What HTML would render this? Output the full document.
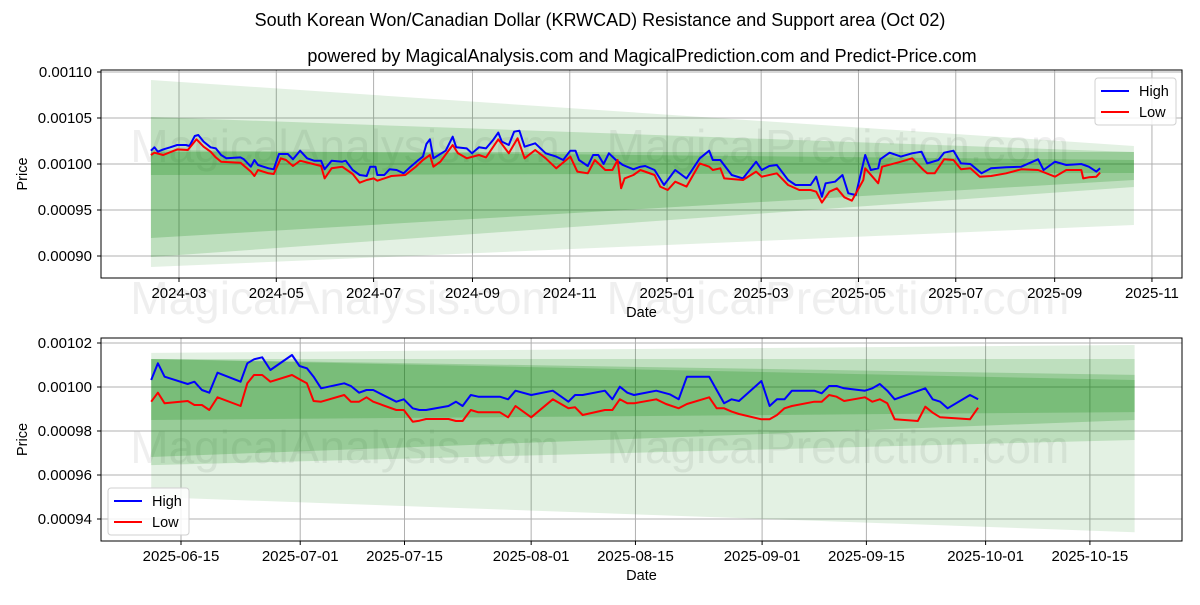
<!DOCTYPE html>
<html><head><meta charset="utf-8"><style>
body{margin:0;background:#fff;}
svg{font-family:"Liberation Sans","DejaVu Sans",sans-serif;}
</style></head><body>
<svg id="chart" width="1200" height="600" viewBox="0 0 1200 600" xmlns="http://www.w3.org/2000/svg">
<rect width="1200" height="600" fill="#fff"/>
<text x="600" y="26" font-size="18" text-anchor="middle" fill="#000">South Korean Won/Canadian Dollar (KRWCAD) Resistance and Support area (Oct 02)</text>
<text x="642" y="62" font-size="18" text-anchor="middle" fill="#000">powered by MagicalAnalysis.com and MagicalPrediction.com and Predict-Price.com</text>
<g id="top"></g>
<g id="bot"></g>
</svg>
<script>
// ---- Top panel data (day offsets from 2024-03-01, price in micro-CAD) ----
const topHighDays=[-17.6,-15.4,-13.2,-9.9,-5.5,-1.1,4.4,6.6,9.9,12.1,15.4,19.8,23.1,26.4,29.7,38.5,40.7,45.1,47.3,49.5,56.1,59.4,62.7,68.2,71.5,75.9,80.3,84.7,89.1,91.3,95.7,102.3,104.5,108.9,113.3,117.7,119.9,123.2,124.3,128.7,132,136.4,140.8,145.2,149.6,152.9,155.1,157.3,159.5,162.8,167.2,171.6,173.8,180.4,183.7,188.1,192.5,196.9,200.2,202.4,206.8,210.1,213.4,216.7,223.3,229.9,236.5,240.9,245.3,248.6,250.8,256.3,259.6,262.9,266.2,269.5,273.9,278.3,284.9,289.3,292.3,298.2,304.1,311.1,318.2,326.5,332.4,334.7,339.4,346.5,353.6,361.8,365.4,370.1,374.8,381.9,386.6,396,399.5,403.1,405.4,411.3,416,419.6,424.3,430.2,433.7,438.4,439.6,445.5,452.6,459.6,465.5,469.1,476.1,479.7,485.6,490.3,496.2,503.2,509.1,518.6,528,538.6,542.1,549.2,556.3,565.7,570.4,575.1,577.5];
const topHighVals=[1014.5,1018.1,1013.4,1015.9,1018.1,1020.7,1020.7,1019.6,1030.4,1031.5,1024.3,1018.1,1017,1009.8,1006.2,1007.2,1005.1,997.1,1004.3,998.9,995.3,994.2,1010.9,1010.9,1005.1,1014.5,1006.2,1003.6,1003.6,994.2,1003.6,1002.5,1003.6,993.5,988,987,997.1,997.1,988,988,994.2,993.5,989.9,997.1,1003.6,1008,1021.7,1026.8,1006.2,1009.8,1014.5,1029.7,1018.1,1017,1011.6,1018.1,1017,1026.1,1034.1,1024.3,1020.7,1035.1,1036.2,1018.8,1022.5,1011.6,1008,1004.3,1014.5,1014.5,1004.3,997.8,1009.8,1009.8,1000,1011.6,1004.3,998.9,994.2,997.1,997.8,993.5,977.2,993.5,984.4,1006.2,1014.5,1004.3,1004.3,988,984.4,1002.5,993.5,997.8,998.9,982.6,977.2,977.2,986.2,964.5,979,980.8,988,968.1,966.3,1009.8,993.5,995.3,1005.1,1012.3,1008,1011.6,1013.4,1000.7,1004.3,1012.3,1014.5,1000.7,1000,989.9,995.3,996.4,997.1,1005.1,993.5,1002.5,998.9,1000,997.1,991.7,995.3];
const topLowDays=[-17.6,-15.4,-9.9,-1.1,5.5,11,15.4,19.8,23.1,26.4,38.5,45.1,47.3,49.5,56.1,59.4,63.8,67.1,71.5,75.9,82.5,89.1,91.3,95.7,102.3,108.9,113.3,117.7,122.1,124.3,128.7,133.1,141.9,148.5,152.9,157.3,159.5,163.9,171.6,174.9,180.4,188.1,192.5,200.2,206.8,212.3,216.7,223.3,229.9,236.5,245.3,249.7,256.3,260.7,267.3,271.7,275,277.2,279.4,284.9,289.3,298.2,301.7,306.4,311.1,318.2,326.5,332.4,334.7,339.4,341.8,353.6,361.8,365.4,374.8,381.9,388.9,396,399.5,403.1,407.8,412.5,417.2,421.9,429,430.2,438.4,440.8,452.6,459.6,466.7,469.1,473.8,479.7,485.6,490.3,496.2,502.1,509.1,518.6,528,538.6,549.2,556.3,565.7,566.9,570.4,575.1,577.5];
const topLowVals=[1009.8,1012.3,1009.8,1015.9,1015.2,1026.8,1018.8,1013.4,1007.2,1002.5,1001.4,991.7,987,993.5,989.9,989.1,1006.2,1004.3,997.8,1003.6,1000.7,997.8,984.4,995.3,997.1,989.1,979.7,982.6,984.4,981.9,984.4,987,988,997.1,1004.3,1009.8,997.1,1002.5,1020.7,1011.6,1006.2,1009.8,1007.2,1026.8,1011.6,1027.9,1006.2,1015.2,1006.2,995.3,1008,991.7,989.9,1004.3,993.5,993.5,1004.3,973.6,984.4,988,993.5,988,975.4,971.7,980.8,975.4,1000.7,997.1,993.5,995.3,984.4,982.6,991.7,986.2,989.9,977.2,971.7,971.7,969.9,958,969.9,973.6,963.8,960.1,982.6,995.3,979,997.1,1002.5,1006.2,993.5,989.9,989.9,1005.1,1004.3,994.2,995.3,986.2,987,989.9,994.2,993.5,986.2,993.5,993.5,984.4,985.5,986.2,990.6];
const topBandDays=[-17.6,598.7];
const topBandA=[[1091.3,888.0],[1019.6,933.7]];
const topBandB=[[1051.1,898.9],[1013.0,975.0]];
const topBandC=[[1013.0,919.6],[1013.0,982.6]];
const topBandD=[[1015.2,988.0],[1004.3,990.2]];
const topYTicks=[1100,1050,1000,950,900];
const topYTickLabels=["0.00110","0.00105","0.00100","0.00095","0.00090"];
const topXTicks=[0,61,122,184,245,306,365,426,487,549,610];
const topXTickLabels=["2024-03","2024-05","2024-07","2024-09","2024-11","2025-01","2025-03","2025-05","2025-07","2025-09","2025-11"];

// ---- Bottom panel data (day offsets from 2025-06-15) ----
const botHighDays=[-4,-3.1,-2.2,0.9,1.8,2.8,3.8,4.9,8,8.9,9.8,10.9,12,14.9,15.9,16.9,17.8,18.8,21.9,22.8,23.9,24.9,25.8,28.9,29.9,31.1,32,32.9,35.9,36.9,37.8,38.9,39.9,42.8,43.9,44.9,47,49.9,52,52.9,53.9,56.9,57.9,58.9,59.9,60.8,63.8,65.6,66.8,67.9,70.9,72.9,73.9,74.9,77.9,79,80,81,82,85,86,87,88,89,91.8,92.8,93.8,94.8,95.8,99.9,100.9,101.9,102.9,105.9,107];
const botHighVals=[1003.18,1010.76,1004.7,1001.36,1002.42,998.64,997.42,1006.5,1002.42,1010.76,1012.57,1013.48,1007.73,1014.54,1009.54,1008.48,1004.7,999.4,1001.67,1000.45,997.42,998.64,998.64,993.33,994.4,990.3,989.55,989.55,991.36,993.33,991.36,996.36,995.6,995.6,994.4,998.33,996.36,998.33,993.33,996.36,996.36,998.33,994.4,1000.15,997.42,996.36,998.33,996.67,994.4,1004.7,1004.7,992.58,994.4,993.64,1002.73,991.36,994.4,994.4,998.33,998.33,997.12,1000.45,1000.45,999.4,998.33,999.4,1001.36,998.33,994.4,999.4,994.4,993.33,990.3,996.36,994.4];
const botLowDays=[-4,-3.1,-2.2,0.9,1.8,2.8,3.8,4.9,8,8.9,9.8,10.9,12,14.9,15.9,16.9,17.8,18.8,21.9,22.8,23.9,24.9,25.8,28.9,29.9,31.1,32,32.9,35.9,36.9,37.8,38.9,39.9,42.8,43.9,44.9,47,49.9,52,52.9,53.9,56.9,57.9,58.9,59.9,60.8,63.8,65.1,66.8,67.9,70.9,71.9,72.9,73.9,74.9,77.9,79,80,81,82,85,86,87,88,89,91.8,92.8,93.8,94.8,95.8,98.9,99.9,100.9,101.9,105.9,107];
const botLowVals=[993.33,997.42,992.58,993.64,991.82,991.82,989.55,995.3,991.36,1001.67,1005.45,1005.45,1002.42,1005.45,1003.48,1001.67,993.64,993.33,996.36,993.33,993.33,995.3,993.33,989.55,989.55,984.24,984.7,985.46,985.46,984.55,984.55,989.55,988.5,988.5,986.21,991.36,986.21,994.4,990.3,990.76,987.27,989.55,989.55,994.4,992.58,992.58,994.4,992.27,990.3,992.27,995.3,990.3,990.3,988.8,987.73,985.3,985.3,987.27,990.3,991.36,993.33,993.33,996.36,995.6,993.64,995.3,993.33,994.4,992.58,985.3,984.55,991.06,988.33,986.21,985.3,990.61];
const botBandDays=[-4,128];
const botBandA=[[1015.5,950.0],[1019.1,934.0]];
const botBandB=[[1012.7,964.5],[1012.7,975.9]];
const botBandC=[[1012.7,968.2],[1005.5,985.0]];
const botBandD=[[1012.7,985.0],[1003.2,988.6]];
const botYTicks=[1020,1000,980,960,940];
const botYTickLabels=["0.00102","0.00100","0.00098","0.00096","0.00094"];
const botXTicks=[0,16,30,47,61,78,92,108,122];
const botXTickLabels=["2025-06-15","2025-07-01","2025-07-15","2025-08-01","2025-08-15","2025-09-01","2025-09-15","2025-10-01","2025-10-15"];

const NS="http://www.w3.org/2000/svg";
function mk(parent,tag,attrs){const e=document.createElementNS(NS,tag);for(const k in attrs)e.setAttribute(k,attrs[k]);parent.appendChild(e);return e;}

function panel(g,cfg){
  const {L,R,T,B,xf,yf}=cfg;
  cfg.marks.forEach(m=>{const t=mk(g,'text',{x:m[0],y:m[1],'font-size':46,fill:'#808080','fill-opacity':0.13,'text-anchor':'middle'});t.textContent=m[2];
    
    });
  cfg.xt.forEach(d=>{const l=mk(g,'line',{x1:xf(d),x2:xf(d),y1:T,y2:B,stroke:'#b0b0b0','stroke-width':1});
    
    });
  cfg.yt.forEach(v=>{const l=mk(g,'line',{x1:L,x2:R,y1:yf(v),y2:yf(v),stroke:'#b0b0b0','stroke-width':1});
    
    });
  const bands=[[cfg.bA,0.11],[cfg.bB,0.16],[cfg.bC,0.2],[cfg.bD,0.2]];
  bands.forEach((b,i)=>{const d0=cfg.bd[0],d1=cfg.bd[1],s=b[0];
    const p=mk(g,'polygon',{points:`${xf(d0)},${yf(s[0][0])} ${xf(d1)},${yf(s[1][0])} ${xf(d1)},${yf(s[1][1])} ${xf(d0)},${yf(s[0][1])}`,fill:'#008000','fill-opacity':b[1]});
    
    });
  const line=(ds,vs,col,name)=>{const pl=mk(g,'polyline',{points:ds.map((d,i)=>xf(d).toFixed(1)+','+yf(vs[i]).toFixed(1)).join(' '),fill:'none',stroke:col,'stroke-width':2,'stroke-linejoin':'round'});
    
    };
  line(cfg.hd,cfg.hv,'#0000ff','high-line');
  line(cfg.ld,cfg.lv,'#ff0000','low-line');
  const fr=mk(g,'rect',{x:L,y:T,width:R-L,height:B-T,fill:'none',stroke:'#000','stroke-width':1});
  
  
  cfg.yt.forEach((v,i)=>{mk(g,'line',{x1:L-4,x2:L,y1:yf(v),y2:yf(v),stroke:'#000'});
    const t=mk(g,'text',{x:L-9,y:yf(v)+5,'font-size':15,'text-anchor':'end',fill:'#000'});t.textContent=cfg.ytl[i];
    
    });
  cfg.xt.forEach((d,i)=>{mk(g,'line',{x1:xf(d),x2:xf(d),y1:B,y2:B+4,stroke:'#000'});
    const t=mk(g,'text',{x:xf(d),y:B+20,'font-size':15,'text-anchor':'middle',fill:'#000'});t.textContent=cfg.xtl[i];
    
    });
  const xl=mk(g,'text',{x:(L+R)/2,y:B+39,'font-size':14.5,'text-anchor':'middle'});xl.textContent='Date';
  
  
  const yl=mk(g,'text',{x:0,y:0,'font-size':14.5,'text-anchor':'middle',transform:`translate(27,${(T+B)/2}) rotate(-90)`});yl.textContent='Price';
  
  
  const [lx,ly]=cfg.leg;
  const lg=mk(g,'g',{});
  
  
  mk(lg,'rect',{x:lx,y:ly,width:81,height:47,rx:3,fill:'#fff','fill-opacity':0.85,stroke:'#d0d0d0'});
  [['High','#0000ff'],['Low','#ff0000']].forEach((e,i)=>{const yy=ly+13+i*21;
    const en=mk(lg,'g',{});
    
    
    mk(en,'line',{x1:lx+6,x2:lx+34,y1:yy,y2:yy,stroke:e[1],'stroke-width':2});
    const t=mk(en,'text',{x:lx+44,y:yy+5,'font-size':14.5});t.textContent=e[0];});
}

panel(document.getElementById('top'),{L:101,R:1182,T:70,B:278,
  xf:d=>179+d*1.595, yf:v=>164-(v-1000)*0.92,
  xt:topXTicks,xtl:topXTickLabels,yt:topYTicks,ytl:topYTickLabels,
  bd:topBandDays,bA:topBandA,bB:topBandB,bC:topBandC,bD:topBandD,
  hd:topHighDays,hv:topHighVals,ld:topLowDays,lv:topLowVals,leg:[1095,78],
  marks:[[345,162,'MagicalAnalysis.com'],[838,162,'MagicalPrediction.com'],[345,314,'MagicalAnalysis.com'],[838,314,'MagicalPrediction.com']]});
panel(document.getElementById('bot'),{L:101,R:1182,T:338,B:541,
  xf:d=>181+d*7.45, yf:v=>387-(v-1000)*2.2,
  xt:botXTicks,xtl:botXTickLabels,yt:botYTicks,ytl:botYTickLabels,
  bd:botBandDays,bA:botBandA,bB:botBandB,bC:botBandC,bD:botBandD,
  hd:botHighDays,hv:botHighVals,ld:botLowDays,lv:botLowVals,leg:[108,488],
  marks:[[345,463,'MagicalAnalysis.com'],[838,463,'MagicalPrediction.com']]});
</script>
</body></html>
